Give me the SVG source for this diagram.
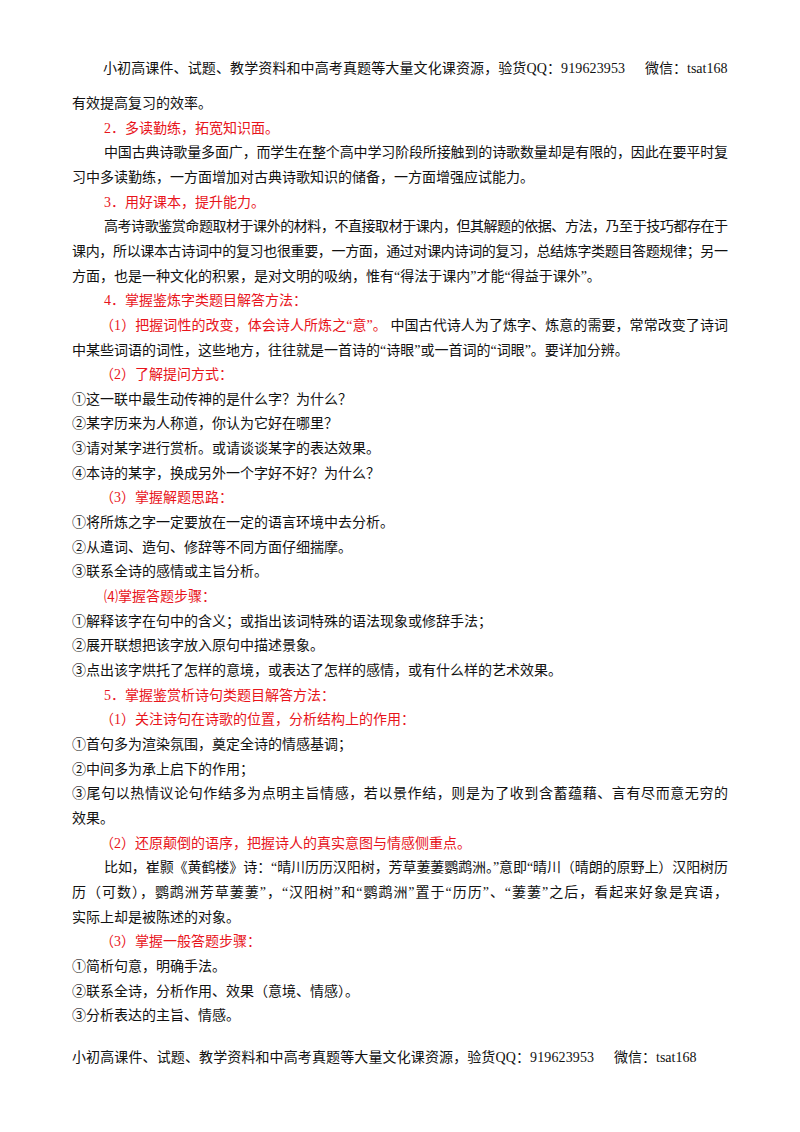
<svg xmlns="http://www.w3.org/2000/svg" width="800" height="1132" viewBox="0 0 800 1132">
<style>
text{font-family:"Liberation Serif","Noto Sans CJK SC",serif;font-size:14px;fill:#111;dominant-baseline:central}
.r{fill:#e8141b}
</style>
<rect width="800" height="1132" fill="#fff"/>
<g id="header"><text x="103" y="68" textLength="522" lengthAdjust="spacing">小初高课件、试题、教学资料和中高考真题等大量文化课资源，验货QQ：919623953</text><text x="645" y="68">微信：tsat168</text></g>
<g id="body">
<text x="72" y="103">有效提高复习的效率。</text>
<text class="r" x="104" y="128">2．多读勤练，拓宽知识面。</text>
<text x="104" y="152" textLength="624" lengthAdjust="spacing">中国古典诗歌量多面广，而学生在整个高中学习阶段所接触到的诗歌数量却是有限的，因此在要平时复</text>
<text x="72" y="177">习中多读勤练，一方面增加对古典诗歌知识的储备，一方面增强应试能力。</text>
<text class="r" x="104" y="202">3．用好课本，提升能力。</text>
<text x="104" y="226" textLength="624" lengthAdjust="spacing">高考诗歌鉴赏命题取材于课外的材料，不直接取材于课内，但其解题的依据、方法，乃至于技巧都存在于</text>
<text x="72" y="251" textLength="656" lengthAdjust="spacing">课内，所以课本古诗词中的复习也很重要，一方面，通过对课内诗词的复习，总结炼字类题目答题规律；另一</text>
<text x="72" y="276">方面，也是一种文化的积累，是对文明的吸纳，惟有“得法于课内”才能“得益于课外”。</text>
<text class="r" x="104" y="300">4．掌握鉴炼字类题目解答方法：</text>
<text x="100" y="325" textLength="628" lengthAdjust="spacing"><tspan class="r">（1）把握词性的改变，体会诗人所炼之“意”。</tspan> 中国古代诗人为了炼字、炼意的需要，常常改变了诗词</text>
<text x="72" y="350">中某些词语的词性，这些地方，往往就是一首诗的“诗眼”或一首词的“词眼”。要详加分辨。</text>
<text class="r" x="100" y="374">（2）了解提问方式：</text>
<text x="72" y="399">①这一联中最生动传神的是什么字？为什么？</text>
<text x="72" y="423">②某字历来为人称道，你认为它好在哪里？</text>
<text x="72" y="448">③请对某字进行赏析。或请谈谈某字的表达效果。</text>
<text x="72" y="473">④本诗的某字，换成另外一个字好不好？为什么？</text>
<text class="r" x="100" y="497">（3）掌握解题思路：</text>
<text x="72" y="522">①将所炼之字一定要放在一定的语言环境中去分析。</text>
<text x="72" y="547">②从遣词、造句、修辞等不同方面仔细揣摩。</text>
<text x="72" y="571">③联系全诗的感情或主旨分析。</text>
<text class="r" x="104" y="596">⑷掌握答题步骤：</text>
<text x="72" y="621">①解释该字在句中的含义；或指出该词特殊的语法现象或修辞手法；</text>
<text x="72" y="645">②展开联想把该字放入原句中描述景象。</text>
<text x="72" y="670">③点出该字烘托了怎样的意境，或表达了怎样的感情，或有什么样的艺术效果。</text>
<text class="r" x="104" y="695">5．掌握鉴赏析诗句类题目解答方法：</text>
<text class="r" x="100" y="719">（1）关注诗句在诗歌的位置，分析结构上的作用：</text>
<text x="72" y="744">①首句多为渲染氛围，奠定全诗的情感基调；</text>
<text x="72" y="769">②中间多为承上启下的作用；</text>
<text x="72" y="793" textLength="656" lengthAdjust="spacing">③尾句以热情议论句作结多为点明主旨情感，若以景作结，则是为了收到含蓄蕴藉、言有尽而意无穷的</text>
<text x="72" y="818">效果。</text>
<text class="r" x="100" y="843">（2）还原颠倒的语序，把握诗人的真实意图与情感侧重点。</text>
<text x="104" y="867" textLength="624" lengthAdjust="spacing">比如，崔颢《黄鹤楼》诗：“晴川历历汉阳树，芳草萋萋鹦鹉洲。”意即“晴川（晴朗的原野上）汉阳树历</text>
<text x="72" y="892" textLength="656" lengthAdjust="spacing">历（可数），鹦鹉洲芳草萋萋”，“汉阳树”和“鹦鹉洲”置于“历历”、“萋萋”之后，看起来好象是宾语，</text>
<text x="72" y="917">实际上却是被陈述的对象。</text>
<text class="r" x="100" y="941">（3）掌握一般答题步骤：</text>
<text x="72" y="966">①简析句意，明确手法。</text>
<text x="72" y="991">②联系全诗，分析作用、效果（意境、情感）。</text>
<text x="72" y="1015">③分析表达的主旨、情感。</text>
</g>
<g id="footer"><text x="72" y="1057" textLength="522" lengthAdjust="spacing">小初高课件、试题、教学资料和中高考真题等大量文化课资源，验货QQ：919623953</text><text x="614" y="1057">微信：tsat168</text></g>
</svg>
